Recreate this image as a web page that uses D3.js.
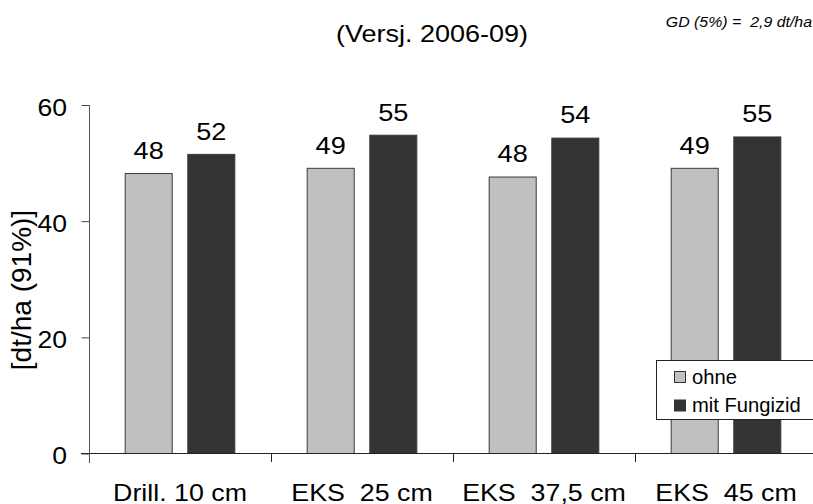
<!DOCTYPE html>
<html>
<head>
<meta charset="utf-8">
<script src="https://cdn.jsdelivr.net/npm/d3@7"></script>
<style>
  html, body { margin: 0; padding: 0; background: #fff; }
  svg { display: block; font-family: "Liberation Sans", Arial, sans-serif; }
  text { white-space: pre; }
</style>
</head>
<body>
<svg id="chart" width="813" height="504"></svg>
<script>
// ---- data ----
const categories = ["Drill. 10 cm", "EKS  25 cm", "EKS  37,5 cm", "EKS  45 cm"];
const seriesNames = ["ohne", "mit Fungizid"];
const ohneValues = [48.2, 49.1, 47.6, 49.1];
const fungizidValues = [51.5, 54.8, 54.3, 54.5];
const ohneLabels = ["48", "49", "48", "49"];
const fungizidLabels = ["52", "55", "54", "55"];
const yTicks = [0, 20, 40, 60];
const titleText = "(Versj. 2006-09)";
const noteText = "GD (5%) =  2,9 dt/ha";
const yTitle = "[dt/ha (91%)]";

const colors = { "ohne": "#c0c0c0", "mit Fungizid": "#333333" };
const SX = 1.13; // horizontal stretch of the original text

const svg = d3.select("#chart");

const x0 = d3.scaleBand().domain(categories).range([89, 817]).paddingInner(0).paddingOuter(0);
const x1 = d3.scaleBand().domain(seriesNames).range([0, x0.bandwidth()]).paddingInner(0.233).paddingOuter(0.57);
const y = d3.scaleLinear().domain([0, 60]).range([453.5, 105]);

const rows = categories.map((c, i) => ({
  cat: c,
  vals: [
    { s: "ohne", v: ohneValues[i], lab: ohneLabels[i] },
    { s: "mit Fungizid", v: fungizidValues[i], lab: fungizidLabels[i] }
  ]
}));

// bars
const g = svg.append("g");
const grp = g.selectAll("g.cat").data(rows).join("g")
  .attr("transform", d => `translate(${x0(d.cat)},0)`);
grp.selectAll("rect").data(d => d.vals).join("rect")
  .attr("x", d => x1(d.s) + 0.5)
  .attr("y", d => y(d.v))
  .attr("width", x1.bandwidth() - 1)
  .attr("height", d => y(0) - y(d.v))
  .attr("fill", d => colors[d.s])
  .attr("stroke", "#3a3a3a")
  .attr("stroke-width", 1);
grp.selectAll("text").data(d => d.vals).join("text")
  .attr("transform", d => `translate(${x1(d.s) + x1.bandwidth() / 2},${y(d.v) - 14.7}) scale(${SX},1)`)
  .attr("text-anchor", "middle")
  .attr("font-size", 24)
  .attr("fill", "#000")
  .text(d => d.lab);

// y axis
const yAxis = svg.append("g").attr("transform", "translate(89.5,0)")
  .call(d3.axisLeft(y).tickValues(yTicks).tickSize(8).tickPadding(0).tickFormat(d3.format("d")));
yAxis.select(".domain").remove();
yAxis.selectAll(".tick line").attr("stroke", "#444");
yAxis.selectAll(".tick text").remove();
yAxis.selectAll(".tick").append("text")
  .attr("transform", `translate(-22.5,10) scale(${SX},1)`)
  .attr("text-anchor", "end")
  .attr("font-size", 23.5)
  .attr("fill", "#000")
  .text(d => d);
svg.append("line").attr("x1", 89.5).attr("x2", 89.5).attr("y1", y(60)).attr("y2", 463)
  .attr("stroke", "#555").attr("stroke-width", 1);

// x axis
const xAxisY = 453.5;
svg.append("line").attr("x1", 81).attr("x2", 813).attr("y1", xAxisY).attr("y2", xAxisY)
  .attr("stroke", "#222").attr("stroke-width", 1);
svg.selectAll("line.xt").data(categories.slice(1)).join("line")
  .attr("class", "xt")
  .attr("x1", d => Math.round(x0(d)) + 0.5).attr("x2", d => Math.round(x0(d)) + 0.5)
  .attr("y1", xAxisY).attr("y2", 462)
  .attr("stroke", "#222");
svg.selectAll("text.xl").data(categories).join("text")
  .attr("class", "xl")
  .attr("transform", d => `translate(${x0(d) + x0.bandwidth() / 2},501) scale(${SX + 0.01},1)`)
  .attr("text-anchor", "middle")
  .attr("font-size", 23.5)
  .attr("fill", "#000")
  .text(d => d);

// y title
svg.append("text")
  .attr("transform", "translate(31,290) rotate(-90)")
  .attr("text-anchor", "middle")
  .attr("font-size", 28)
  .attr("fill", "#000")
  .text(yTitle);

// title
svg.append("text")
  .attr("transform", `translate(432,42) scale(1.15,1)`)
  .attr("text-anchor", "middle")
  .attr("font-size", 23.5)
  .attr("fill", "#000")
  .text(titleText);

// note
svg.append("text")
  .attr("transform", `translate(812,27) scale(1.12,1)`)
  .attr("text-anchor", "end")
  .attr("font-size", 14.2)
  .attr("font-style", "italic")
  .attr("fill", "#000")
  .text(noteText);

// legend
const lg = svg.append("g");
lg.append("rect").attr("x", 656.5).attr("y", 360.5).attr("width", 170).attr("height", 59)
  .attr("fill", "#fff").attr("stroke", "#222").attr("stroke-width", 1);
const li = lg.selectAll("g.li").data(seriesNames).join("g")
  .attr("class", "li")
  .attr("transform", (d, i) => `translate(674,${371 + i * 28.5})`);
li.append("rect").attr("x", 0.5).attr("y", 0.5).attr("width", 11).attr("height", 11)
  .attr("fill", d => colors[d]).attr("stroke", "#333");
li.append("text").attr("x", 18).attr("y", 12.5)
  .attr("font-size", 20.2).attr("fill", "#000")
  .text(d => d);
</script>
</body>
</html>
